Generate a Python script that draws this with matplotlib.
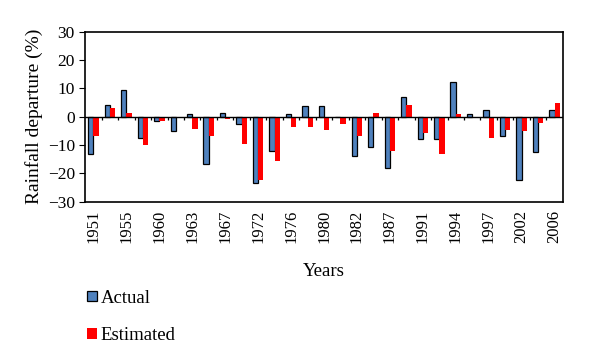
import numpy as np
import matplotlib
matplotlib.use("Agg")
import matplotlib.pyplot as plt

plt.rcParams['font.family'] = ['Liberation Serif', 'DejaVu Serif']

# category years (only every other one is labelled on the axis)
years = [1951, 1953, 1955, 1958, 1960, 1961, 1963, 1965, 1967, 1970,
         1972, 1974, 1976, 1978, 1980, 1981, 1982, 1985, 1987, 1989,
         1991, 1993, 1994, 1996, 1997, 2000, 2002, 2004, 2006]
actual = [-13.2, 4.2, 9.5, -7.4, -1.4, -4.9, 1.0, -16.7, 1.2, -2.5,
          -23.4, -12.2, 0.8, 3.9, 3.9, -0.2, -13.8, -10.6, -18.2, 7.0,
          -8.0, -8.0, 12.2, 1.0, 2.5, -6.9, -22.3, -12.6, 2.4]
estimated = [-6.8, 2.9, 1.3, -9.9, -1.4, -0.4, -4.3, -6.7, -1.0, -9.7,
             -22.3, -15.6, -3.5, -3.5, -4.6, -2.7, -6.9, 1.4, -12.0, 4.0,
             -5.6, -13.2, 1.0, -0.6, -7.4, -4.8, -4.9, -2.2, 4.9]

fig = plt.figure(figsize=(6, 3.64), dpi=100)
ax = fig.add_axes([0.142, 0.446, 0.796, 0.467])

x = np.arange(len(years))
w = 0.32
ax.bar(x - 0.16, actual, w, color='#4F81BD', edgecolor='black', linewidth=0.9, label='Actual')
ax.bar(x + 0.16, estimated, w, color='#FF0000', label='Estimated')

ax.axhline(0, color='black', linewidth=1)
# category tick marks along the zero line
ax.vlines(x[:-1] + 0.5, -1.3, 0, color='black', linewidth=0.9)

ax.set_xlim(-0.5, len(years) - 0.5)
ax.set_ylim(-30, 30)
ax.set_yticks([-30, -20, -10, 0, 10, 20, 30])
ax.set_yticklabels(['\u221230', '\u221220', '\u221210', '0', '10', '20', '30'])
ax.set_xticks(x[::2])
ax.set_xticklabels([str(y) for y in years[::2]], rotation=90)
ax.tick_params(axis='x', length=0, pad=6, labelsize=12)
ax.tick_params(axis='y', direction='out', length=4, labelsize=12.5)
for s in ax.spines.values():
    s.set_linewidth(1.2)

ax.set_ylabel('Rainfall departure (%)', fontsize=14, labelpad=3)
ax.set_xlabel('Years', fontsize=13.5, labelpad=14)

fig.legend(loc='upper left', bbox_to_anchor=(0.13, 0.23), frameon=False,
           fontsize=13.5, handlelength=0.5, handleheight=0.5,
           handletextpad=0.2, labelspacing=1.1, borderpad=0)

fig.savefig('out.png', dpi=100)
